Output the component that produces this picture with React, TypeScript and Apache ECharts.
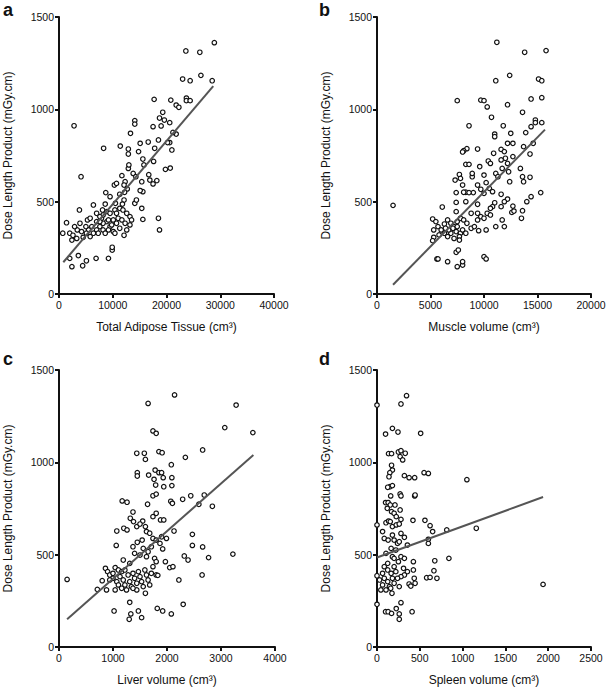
import React, { useEffect, useRef } from 'react';
import * as echarts from 'echarts';

// Panel a: total adipose tissue (cm3) vs DLP (mGy.cm)
const adiposePoints: [number, number][] = [
  [28900, 1361], [23600, 1316], [26200, 1309], [23000, 1164], [24400, 1155], [26400, 1184], [28500, 1155],
  [17700, 1054], [20800, 1050], [21800, 1023], [22300, 1011], [23700, 1061], [23700, 1047], [24400, 1047],
  [19300, 984], [18700, 953], [19600, 942], [20600, 928], [19000, 910], [17500, 906], [14100, 939], [14100, 920],
  [13300, 870], [2800, 911], [21800, 866], [21200, 875], [8300, 789], [11400, 801], [12900, 785], [12900, 758],
  [18500, 834], [17800, 789], [20600, 820], [20200, 820], [21000, 780], [14800, 771], [15100, 816], [16600, 823],
  [15600, 731], [17600, 718], [15800, 699], [12900, 680], [13000, 699], [19800, 675], [20700, 682], [4100, 635],
  [13800, 653], [14300, 635], [11700, 641], [16700, 646], [16900, 617], [18200, 614], [17500, 596], [12300, 608],
  [12100, 590], [10300, 590], [10700, 599], [12700, 569], [12200, 551], [15600, 554], [15100, 560], [15400, 608],
  [11300, 540], [8700, 549], [9500, 527], [8600, 487], [10500, 491], [12100, 509], [11800, 487], [14100, 491],
  [14400, 509], [15400, 464], [15600, 404], [18500, 410], [18700, 347], [6400, 482], [3800, 455], [7000, 437],
  [1400, 386], [700, 329], [2000, 329], [3400, 347], [4200, 338], [5500, 347], [7000, 392], [7900, 410],
  [8200, 428], [8900, 446], [9500, 437], [10400, 455], [10700, 437], [11300, 464], [11900, 455], [12600, 437],
  [13200, 419], [13500, 401], [13200, 374], [12100, 318], [10100, 338], [9500, 365], [8900, 392], [8200, 383],
  [7600, 365], [7000, 347], [6100, 365], [5100, 329], [4500, 307], [3300, 301], [2400, 292], [2600, 318],
  [10100, 401], [10700, 383], [11000, 410], [9200, 401], [7600, 392], [8200, 347], [9200, 347], [9800, 374],
  [11700, 401], [12300, 383], [12600, 347], [11300, 356], [6400, 329], [5800, 311], [5000, 365], [3900, 383],
  [2900, 365], [8600, 329], [10400, 329], [7300, 329], [9900, 238], [9900, 253], [9200, 193], [6900, 193],
  [5100, 180], [4400, 153], [3600, 208], [2000, 193], [2400, 148], [5300, 401], [5800, 410], [7600, 419],
  [8100, 455],
];
const adiposeFit: [number, number][] = [[800, 172], [28700, 1126]];

// Panel b: muscle volume (cm3) vs DLP
const musclePoints: [number, number][] = [
  [1500, 480], [11200, 1363], [15800, 1318], [13800, 1309], [11100, 1155], [12400, 1184], [15100, 1164],
  [15400, 1155], [7500, 1047], [9700, 1050], [10000, 1047], [10300, 1013], [12200, 1025], [14400, 1056],
  [15400, 1063], [13600, 984], [10700, 957], [11800, 911], [8600, 911], [11000, 866], [12500, 870], [14800, 942],
  [14800, 928], [14400, 906], [15400, 928], [13900, 874], [9400, 785], [8400, 787], [8100, 776], [8000, 769],
  [11000, 852], [12200, 816], [12700, 816], [13700, 798], [14600, 816], [14300, 758], [10900, 762], [11600, 783],
  [11900, 771], [12000, 735], [12700, 744], [8300, 702], [8600, 702], [10400, 720], [10600, 707], [11600, 726],
  [12200, 707], [13400, 680], [12300, 662], [13600, 635], [13700, 608], [14400, 527], [15300, 549], [14000, 500],
  [14300, 632], [7700, 647], [7800, 626], [7300, 617], [8900, 635], [8900, 653], [9600, 690], [10000, 644],
  [11100, 653], [11300, 635], [11700, 680], [12400, 608], [10200, 603], [10500, 572], [9400, 590], [9700, 567],
  [8000, 590], [8300, 551], [8100, 551], [9000, 549], [8600, 549], [7400, 549], [10000, 545], [10800, 554],
  [11600, 540], [12200, 514], [12700, 476], [12600, 442], [12800, 449], [13500, 410], [13600, 451], [11000, 494],
  [10800, 473], [10600, 464], [11600, 473], [11900, 500], [8300, 500], [9400, 486], [6100, 471], [7400, 496],
  [7400, 446], [5200, 406], [5500, 392], [5700, 365], [5300, 347], [6000, 347], [6300, 379], [6600, 401],
  [6900, 383], [7200, 365], [7500, 392], [7800, 410], [8100, 401], [8400, 383], [8800, 356], [9100, 365],
  [9400, 401], [9700, 419], [10000, 410], [10300, 437], [10600, 428], [9400, 437], [8800, 437], [10200, 347],
  [9500, 343], [11100, 365], [11700, 401], [11900, 365], [6900, 329], [6300, 329], [5800, 320], [5300, 307],
  [5200, 289], [6700, 347], [7400, 338], [7800, 329], [8000, 347], [7700, 311], [8300, 329], [7200, 301],
  [6600, 311], [6400, 356], [7100, 356], [7500, 365], [7700, 292], [5600, 190], [5700, 190], [6600, 175],
  [7400, 226], [7600, 238], [7500, 148], [8000, 157], [8000, 175], [10000, 202], [10200, 190],
];
const muscleFit: [number, number][] = [[1500, 50], [15700, 890]];

// Panel c: liver volume (cm3) vs DLP
const liverPoints: [number, number][] = [
  [150, 366], [1650, 1319], [2140, 1365], [3280, 1310], [3070, 1188], [3590, 1161], [1740, 1170], [1800, 1157],
  [1440, 1049], [1580, 1049], [1600, 1016], [1850, 1058], [1910, 1052], [2340, 1027], [2660, 1067], [2080, 987],
  [1780, 958], [1850, 944], [1900, 944], [1450, 944], [1450, 926], [1660, 931], [1760, 908], [1930, 917],
  [2090, 917], [1790, 877], [1940, 868], [2090, 874], [1740, 819], [1800, 828], [2440, 819], [2690, 823],
  [2290, 800], [2070, 789], [2100, 778], [1640, 773], [2590, 773], [2840, 762], [1170, 791], [1260, 784],
  [1370, 731], [1320, 697], [1380, 679], [1550, 682], [1740, 706], [1800, 724], [1880, 688], [1940, 688],
  [2130, 628], [1070, 628], [1200, 643], [1260, 634], [1440, 652], [1500, 666], [1600, 652], [1620, 625],
  [1680, 616], [1740, 588], [1800, 579], [1900, 597], [1990, 588], [1450, 567], [1540, 579], [1370, 543],
  [1560, 534], [1650, 516], [1710, 543], [1870, 561], [1920, 531], [1060, 550], [2470, 610], [2470, 550],
  [2660, 542], [2320, 493], [2390, 471], [2770, 484], [3220, 503], [2650, 390], [2220, 363], [2050, 430],
  [2110, 435], [1970, 462], [1770, 480], [1800, 462], [1620, 489], [1500, 498], [1400, 507], [1190, 471],
  [1310, 453], [1040, 430], [860, 426], [900, 408], [940, 390], [800, 359], [710, 312], [880, 309],
  [1000, 399], [1000, 372], [1070, 354], [1100, 336], [1040, 309], [1130, 381], [1190, 363], [1220, 336],
  [1160, 318], [1280, 390], [1310, 354], [1340, 327], [1370, 399], [1400, 372], [1440, 345], [1470, 408],
  [1500, 381], [1530, 354], [1560, 327], [1590, 417], [1620, 390], [1650, 363], [1680, 336], [1710, 399],
  [1740, 435], [1800, 390], [1250, 309], [1440, 309], [1600, 291], [1830, 388], [1310, 242], [1020, 195],
  [1330, 179], [1470, 195], [1530, 159], [1300, 150], [1820, 209], [1920, 195], [2080, 179], [2300, 231],
  [1100, 417], [1160, 408], [1220, 417], [940, 363], [1370, 318],
];
const liverFit: [number, number][] = [[150, 150], [3600, 1040]];

// Panel d: spleen volume (cm3) vs DLP
const spleenPoints: [number, number][] = [
  [0, 1310], [0, 661], [0, 386], [0, 231], [345, 1361], [280, 1316], [100, 1153], [180, 1184], [245, 1164],
  [510, 1157], [135, 1047], [170, 1047], [250, 1056], [280, 1063], [330, 1049], [270, 1031], [300, 1013],
  [170, 984], [180, 958], [150, 944], [140, 922], [320, 928], [375, 917], [440, 917], [550, 944], [600, 940],
  [1050, 906], [150, 868], [180, 874], [125, 865], [270, 829], [280, 818], [440, 818], [445, 823], [160, 818],
  [100, 782], [130, 782], [155, 769], [120, 751], [170, 733], [200, 724], [225, 706], [210, 769], [270, 742],
  [105, 673], [135, 682], [155, 679], [180, 652], [225, 661], [260, 666], [280, 691], [420, 686], [560, 686],
  [620, 657], [650, 625], [815, 634], [1160, 643], [600, 583], [600, 561], [65, 625], [85, 588], [130, 579],
  [180, 606], [200, 579], [240, 561], [280, 615], [320, 594], [260, 570], [355, 552], [165, 534], [220, 525],
  [105, 507], [180, 489], [280, 489], [320, 480], [250, 462], [425, 462], [675, 467], [840, 480], [665, 413],
  [425, 417], [355, 408], [320, 390], [280, 381], [435, 372], [445, 345], [375, 341], [395, 330], [580, 375],
  [620, 377], [700, 372], [1940, 339], [85, 435], [125, 417], [165, 399], [200, 435], [180, 372], [220, 408],
  [85, 372], [125, 354], [145, 327], [65, 336], [105, 309], [160, 318], [200, 345], [240, 372], [260, 327],
  [45, 309], [175, 291], [280, 240], [225, 208], [100, 191], [130, 191], [170, 182], [260, 179], [260, 150],
  [410, 191], [65, 399], [125, 453], [30, 363], [200, 480], [310, 426],
];
const spleenFit: [number, number][] = [[0, 485], [1940, 812]];

const panelLetters = ['a', 'b', 'c', 'd'];
const xNames = ['Total Adipose Tissue (cm³)', 'Muscle volume (cm³)', 'Liver volume (cm³)', 'Spleen volume (cm³)'];
const xMax = [40000, 20000, 4000, 2500];
const xStep = [10000, 5000, 1000, 500];
const yName = 'Dose Length Product (mGy.cm)';

const FONT = '"Liberation Sans", Arial, Helvetica, sans-serif';

const grids = [
  { left: 59, top: 17, width: 215, height: 277 },
  { left: 377, top: 17, width: 214, height: 277 },
  { left: 59, top: 370, width: 216, height: 277 },
  { left: 377, top: 370, width: 214, height: 277 },
];
const letterPos = [
  [3, 1],
  [319, 1],
  [3, 350],
  [319, 350],
];

const App: React.FC = () => {
  const chartRef = useRef<HTMLDivElement>(null);

  useEffect(() => {
    if (!chartRef.current) return;
    const chart = echarts.init(chartRef.current, undefined, { renderer: 'svg' });

    const axisLine = { show: true, lineStyle: { color: '#111', width: 2 } };
    const axisTick = { show: true, length: 4, lineStyle: { color: '#111', width: 2 } };
    const axisLabel = {
      color: '#111',
      fontSize: 10.5,
      fontFamily: FONT,
      margin: 5,
      formatter: (v: number) => String(v),
    };

    const points = [adiposePoints, musclePoints, liverPoints, spleenPoints];
    const fits = [adiposeFit, muscleFit, liverFit, spleenFit];

    const option: echarts.EChartsOption = {
      animation: false,
      backgroundColor: '#fff',
      grid: grids.map((g) => ({ ...g, containLabel: false })),
      xAxis: grids.map((_, i) => ({
        type: 'value',
        gridIndex: i,
        min: 0,
        max: xMax[i],
        interval: xStep[i],
        name: xNames[i],
        nameLocation: 'middle',
        nameGap: 27,
        nameTextStyle: { color: '#111', fontSize: 12, fontFamily: FONT },
        axisLine,
        axisTick,
        axisLabel,
        splitLine: { show: false },
      })),
      yAxis: grids.map((_, i) => ({
        type: 'value',
        gridIndex: i,
        min: 0,
        max: 1500,
        interval: 500,
        name: yName,
        nameLocation: 'middle',
        nameGap: 45,
        nameTextStyle: { color: '#111', fontSize: 12, fontFamily: FONT },
        axisLine,
        axisTick,
        axisLabel,
        splitLine: { show: false },
      })),
      series: [
        ...points.map((data, i) => ({
          type: 'scatter' as const,
          xAxisIndex: i,
          yAxisIndex: i,
          data,
          symbol: 'circle',
          symbolSize: 4.5,
          itemStyle: { color: '#fff', borderColor: '#111', borderWidth: 1.2, opacity: 1 },
          z: 2,
        })),
        ...fits.map((data, i) => ({
          type: 'line' as const,
          xAxisIndex: i,
          yAxisIndex: i,
          data,
          symbol: 'none',
          lineStyle: { color: '#555', width: 2 },
          z: 3,
        })),
      ],
      graphic: panelLetters.map((t, i) => ({
        type: 'text',
        left: letterPos[i][0],
        top: letterPos[i][1],
        style: { text: t, fontSize: 18, fontWeight: 'bold', fontFamily: FONT, fill: '#111' },
      })),
    };

    chart.setOption(option);
    return () => {
      chart.dispose();
    };
  }, []);

  return (
    <div
      ref={chartRef}
      style={{ position: 'fixed', left: 0, top: 0, width: 609, height: 689, background: '#fff' }}
    />
  );
};

export default App;
